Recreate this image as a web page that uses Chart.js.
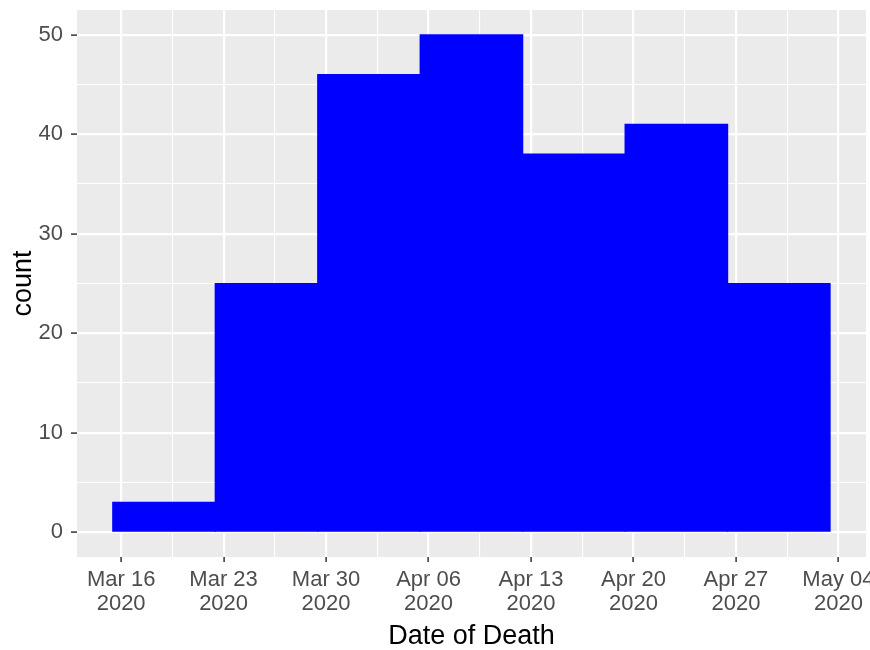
<!DOCTYPE html>
<html>
<head>
<meta charset="utf-8">
<script src="https://cdn.jsdelivr.net/npm/chart.js@4.4.0/dist/chart.umd.min.js"></script>
<style>
html, body { margin: 0; padding: 0; background: #fff; }
</style>
</head>
<body>
<canvas id="histChart" width="870" height="650"></canvas>
<script>
// Histogram of deaths per week, x counted in days from Mar 16 2020
const binCenters = [2.93, 9.93, 16.93, 23.93, 30.93, 37.93, 44.93];
const counts = [3, 25, 46, 50, 38, 41, 25];
const tickDays = [0, 7, 14, 21, 28, 35, 42, 49];
const tickLabels = ['Mar 16', 'Mar 23', 'Mar 30', 'Apr 06', 'Apr 13', 'Apr 20', 'Apr 27', 'May 04'];
const yearLabel = '2020';
const yTicks = [0, 10, 20, 30, 40, 50];

const FONT = '"Liberation Sans", Arial, sans-serif';
const isMajorX = v => tickDays.some(d => Math.abs(d - v) < 0.01);
const isMajorY = v => yTicks.some(d => Math.abs(d - v) < 0.01);
const tickVal = c => (c && c.tick ? c.tick.value : NaN);

const panelBg = {
    id: 'panelBg',
    beforeDraw(chart) {
        const { ctx, chartArea: a } = chart;
        ctx.save();
        ctx.fillStyle = '#ebebeb';
        ctx.fillRect(a.left, a.top, a.right - a.left, a.bottom - a.top);
        ctx.restore();
    }
};

new Chart(document.getElementById('histChart').getContext('2d'), {
    type: 'bar',
    data: {
        datasets: [{
            data: binCenters.map((x, i) => ({ x, y: counts[i] })),
            backgroundColor: '#0000ff',
            borderWidth: 0,
            inflateAmount: 0.6,
            // minor grid ticks sit every half week, so a full week is twice the sample size
            barPercentage: 2,
            categoryPercentage: 1
        }]
    },
    options: {
        responsive: false,
        animation: false,
        layout: { padding: { top: 10, right: 4, left: 0, bottom: 0 } },
        plugins: { legend: { display: false }, tooltip: { enabled: false } },
        scales: {
            x: {
                type: 'linear',
                min: -3.015,
                max: 50.885,
                offset: false,
                afterBuildTicks: s => {
                    const t = [];
                    tickDays.forEach((d, i) => {
                        t.push({ value: d });
                        if (i < tickDays.length - 1) t.push({ value: (d + tickDays[i + 1]) / 2 });
                    });
                    s.ticks = t;
                },
                afterFit: s => { s.height = 93; s.paddingLeft = 0; s.paddingRight = 0; },
                border: { display: false },
                grid: {
                    offset: false,
                    color: '#ffffff',
                    lineWidth: c => isMajorX(tickVal(c)) ? 2.2 : 1.1,
                    drawTicks: true,
                    tickLength: 5,
                    tickWidth: 1.5,
                    tickColor: c => isMajorX(tickVal(c)) ? '#333333' : 'rgba(0,0,0,0)'
                },
                ticks: {
                    autoSkip: false,
                    maxRotation: 0,
                    padding: 6,
                    color: '#4d4d4d',
                    font: { family: FONT, size: 22, lineHeight: 1.08 },
                    callback: v => {
                        const i = tickDays.findIndex(d => Math.abs(d - v) < 0.01);
                        return i < 0 ? '' : [tickLabels[i], yearLabel];
                    }
                },
                title: {
                    display: true,
                    text: 'Date of Death',
                    color: '#000000',
                    font: { family: FONT, size: 27, lineHeight: 1 },
                    padding: { top: 0, bottom: 0 }
                }
            },
            y: {
                min: -2.5,
                max: 52.5,
                afterBuildTicks: s => {
                    const t = [];
                    yTicks.forEach((v, i) => {
                        t.push({ value: v });
                        if (i < yTicks.length - 1) t.push({ value: (v + yTicks[i + 1]) / 2 });
                    });
                    s.ticks = t;
                },
                afterFit: s => { s.width = 77; s.paddingTop = 0; s.paddingBottom = 0; },
                border: { display: false },
                grid: {
                    color: '#ffffff',
                    lineWidth: c => isMajorY(tickVal(c)) ? 2.2 : 1.1,
                    drawTicks: true,
                    tickLength: 6,
                    tickWidth: 1.5,
                    tickColor: c => isMajorY(tickVal(c)) ? '#333333' : 'rgba(0,0,0,0)'
                },
                ticks: {
                    autoSkip: false,
                    padding: 8,
                    color: '#4d4d4d',
                    font: { family: FONT, size: 22 },
                    callback: v => isMajorY(v) ? String(v) : ''
                },
                title: {
                    display: true,
                    text: 'count',
                    color: '#000000',
                    font: { family: FONT, size: 27, lineHeight: 1 },
                    padding: { top: 10, bottom: 0 }
                }
            }
        }
    },
    plugins: [panelBg]
});
</script>
</body>
</html>
